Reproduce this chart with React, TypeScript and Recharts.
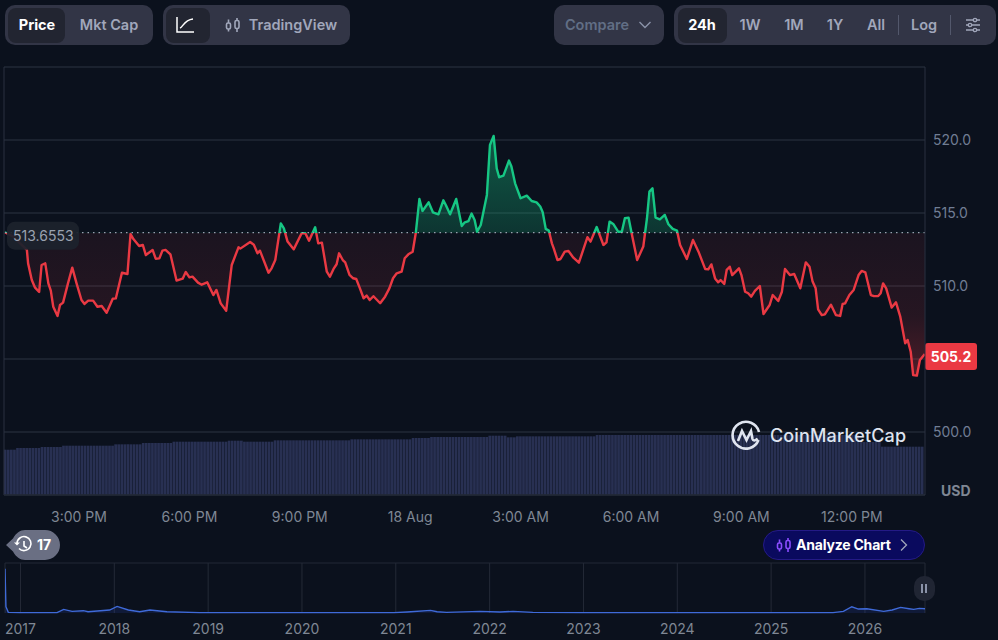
import React from "react";
import { ComposedChart, AreaChart, BarChart, Area, Bar, XAxis, YAxis, CartesianGrid, ReferenceLine } from "recharts";

// ---- main price series (minutes after 3:00 PM, USD) ----
const priceMinutes = [
  -121,-107,-96,-85,-83,-77,-72,-65,-61,-55,-50,-46,-42,-35,-31,-26,-18,-11,-4,4,9,15,23,30,37,45,55,60,70,79,84,89,98,104,109,120,125,131,136,141,149,159,169,174,180,185,194,200,209,219,224,231,240,249,260,263,279,285,291,295,309,314,320,329,334,340,350,363,369,375,385,390,396,404,409,
  415,420,424,430,434,441,447,452,458,464,469,474,480,491,499,506,512,518,526,531,537,544,549,555,560,570,577,586,594,598,605,615,624,629,635,640,645,649,655,665,670,676,681,685,692,701,705,711,720,730,738,746,752,756,761,766,771,774,780,785,792,798,806,815,822,829,834,844,855,860,865,871,879,885,890,896,901,910,920,926,930,935,940,947,955,961,968,975,
  980,991,1001,1010,1021,1026,1031,1037,1042,1046,1052,1056,1061,1065,1076,1080,1086,1091,1096,1102,1110,1116,1126,1131,1140,1146,1151,1159,1166,1176,1185,1191,1196,1201,1205,1211,1216,1226,1234,1241,1245,1249,1256,1263,1271,1276,1282,1291,1296,1303,1307,1311,1316,1325,1332,1339,1347,1351,1356,1360,1366,1371,1379,
];
const priceValues = [
  513.68,513.38,512.92,512.47,511.55,510.41,509.91,509.59,511.44,511.55,510.18,509.68,508.58,507.95,508.7,508.86,510.18,511.26,510.18,509.04,508.77,509.0,509.0,508.58,508.63,508.17,509.13,509.15,510.91,510.82,513.56,513.2,512.74,512.81,512.12,512.47,511.87,511.89,512.42,512.47,512.17,510.37,510.5,510.96,510.59,510.64,510.23,510.09,510.25,509.38,509.73,508.81,508.31,511.44,512.65,512.56,513.01,512.83,512.24,512.42,510.91,511.21,511.78,514.29,513.95,513.04,512.51,513.61,513.61,513.1,514.02,512.92,512.97,510.98,510.64,
  511.17,511.49,512.24,511.78,511.62,510.76,510.53,510.48,509.84,509.16,509.34,509.04,509.3,508.82,509.27,509.84,510.53,510.87,510.98,511.9,512.17,512.35,513.61,515.96,515.14,515.73,515.05,514.91,515.87,515.55,514.91,515.96,514.11,514.36,514.45,514.96,514.52,513.72,514.18,516.24,519.66,520.28,518.06,517.45,517.56,518.59,518.18,517.03,516.01,516.19,515.82,515.73,515.44,515.05,513.91,513.79,512.92,512.58,511.78,511.85,512.35,512.4,511.94,511.6,512.47,513.34,513.04,514.04,512.81,512.99,514.41,514.25,513.72,513.72,514.64,514.68,513.61,511.78,512.7,514.64,516.46,516.69,514.68,514.57,514.87,514.23,513.91,513.79,
  512.81,511.85,513.15,512.35,511.16,511.14,511.48,510.52,510.25,510.41,510.14,511.1,511.32,510.75,511.21,510.75,509.61,509.5,509.27,509.66,510.0,508.08,508.7,509.38,508.97,509.61,511.16,510.75,510.82,509.84,511.62,511.32,510.3,509.84,508.4,508.01,508.06,508.72,508.01,507.95,508.77,508.81,509.38,509.73,510.75,511.03,510.94,509.38,509.31,509.31,509.5,510.18,509.84,508.52,508.88,507.9,506.07,506.3,505.5,503.9,503.86,504.93,505.34,
];
const openPrice = 513.6553;
const lastPrice = 505.2;

// ---- volume, read as runs of equal-height bars: [bar count, volume] ----
const volumeRuns = [
  [4,1133],[8,1175],[7,1200],[17,1233],[9,1267],[10,1300],[18,1333],[5,1358],[10,1333],[25,1367],[20,1392],[6,1425],[19,1450],[3,1483],
  [3,1483],[3,1442],[26,1467],[42,1500],[44,1500],[7,1325],[14,1208],
];

// ---- axes ----
const timeTicks = [0,180,360,540,720,900,1080,1260];
const timeLabels = ["3:00 PM","6:00 PM","9:00 PM","18 Aug","3:00 AM","6:00 AM","9:00 AM","12:00 PM"];
const priceTicks = [500,505,510,515,520,525];
const shownPriceTicks = [500,510,515,520];

// ---- navigator (all-time) ----
const navYears = [2016.835,2016.845,2016.87,2017.0,2017.39,2017.46,2017.55,2017.67,2017.72,2017.95,2018.03,2018.15,2018.27,2018.38,2018.56,2018.91,2020.98,2021.12,2021.37,2021.44,2021.54,2021.9,2022.11,2022.25,2022.46,2022.99,2024.6,2025.66,2025.77,2025.86,2025.93,2026.02,2026.2,2026.29,2026.38,2026.47,2026.52,2026.58,2026.64];
const navValues = [4420,630,66,33,33,363,165,231,132,297,660,297,132,297,132,33,33,100,264,132,66,165,100,165,66,33,33,33,165,627,396,429,165,297,561,429,363,462,429];
const navTicks = [2017,2018,2019,2020,2021,2022,2023,2024,2025,2026];

const priceData = priceMinutes.map((t, i) => ({ t, price: priceValues[i] }));
const volumeData: { t: number; volume: number }[] = [];
volumeRuns.forEach(([n, v]) => {
  for (let k = 0; k < n; k++) volumeData.push({ t: -120 + 5 * volumeData.length, volume: v });
});
const navData = navYears.map((year, i) => ({ year, value: navValues[i] }));

const FONT = "Inter, 'Noto Sans', sans-serif";
const GRID = "#222836";
const BG = "#0b111d";
const X_DOMAIN: [number, number] = [-122.3, 1379.3];
const Y_DOMAIN: [number, number] = [495.685, 525];

const hi = Math.max(...priceValues);
const lo = Math.min(...priceValues);
const split = (hi - openPrice) / (hi - lo);

const box = (left: number, top: number, width: number, height: number, extra: React.CSSProperties = {}): React.CSSProperties => ({
  position: "absolute", left, top, width, height, boxSizing: "border-box", ...extra,
});

function Txt({ cx, cy, children, color = "#a1a7bb", weight = 600, size = 14.5 }: any) {
  return (
    <div style={{ position: "absolute", left: cx - 60, width: 120, top: cy - 10, height: 20, lineHeight: "20px", textAlign: "center", color, fontWeight: weight, fontSize: size, whiteSpace: "nowrap" }}>
      {children}
    </div>
  );
}

function Candles({ x, y, color, w = 1.6 }: any) {
  return (
    <svg style={{ position: "absolute", left: x, top: y }} width="18" height="18" viewBox="0 0 18 18" fill="none" stroke={color} strokeWidth={w}>
      <rect x="2.5" y="7" width="4" height="6" rx="1.6" />
      <path d="M4.5 3.5V7M4.5 13v2.5" />
      <rect x="11" y="4.5" width="4" height="8" rx="1.6" />
      <path d="M13 2v2.5M13 12.5V16" />
    </svg>
  );
}

function Toolbar() {
  const group = "#323546";
  const sel = "#222531";
  return (
    <>
      <div style={box(5, 5, 148, 40, { background: group, borderRadius: 10 })} />
      <div style={box(8, 8, 57, 35, { background: sel, borderRadius: 8 })} />
      <Txt cx={37} cy={25} color="#ffffff" weight={700}>Price</Txt>
      <Txt cx={109} cy={25}>Mkt Cap</Txt>

      <div style={box(163, 5, 187, 40, { background: group, borderRadius: 10 })} />
      <div style={box(166, 8, 44, 35, { background: sel, borderRadius: 8 })} />
      <svg style={{ position: "absolute", left: 176, top: 16 }} width="18" height="18" viewBox="0 0 18 18" fill="none" stroke="#fff" strokeWidth="1.5">
        <path d="M1 1v15h17" />
        <path d="M4 12c3-1 4-8 13-9" />
      </svg>
      <Candles x={224} y={16} color="#a1a7bb" />
      <Txt cx={293} cy={25}>TradingView</Txt>

      <div style={box(554, 5, 110, 40, { background: group, borderRadius: 10 })} />
      <Txt cx={597} cy={25} color="#616e85">Compare</Txt>
      <svg style={{ position: "absolute", left: 638, top: 20 }} width="14" height="10" viewBox="0 0 14 10" fill="none" stroke="#8a92a8" strokeWidth="1.4">
        <path d="M1.5 2l5.5 5.5L12.5 2" />
      </svg>

      <div style={box(674, 5, 322, 40, { background: group, borderRadius: 10 })} />
      <div style={box(678, 8, 49, 35, { background: sel, borderRadius: 8 })} />
      <Txt cx={702} cy={25} color="#ffffff" weight={700}>24h</Txt>
      <Txt cx={750} cy={25}>1W</Txt>
      <Txt cx={794} cy={25}>1M</Txt>
      <Txt cx={835} cy={25}>1Y</Txt>
      <Txt cx={876} cy={25}>All</Txt>
      <div style={box(898, 15, 1, 20, { background: "#53586c" })} />
      <Txt cx={924} cy={25}>Log</Txt>
      <div style={box(950, 15, 1, 20, { background: "#53586c" })} />
      <svg style={{ position: "absolute", left: 965, top: 17 }} width="16" height="16" viewBox="0 0 16 16" fill="none" stroke="#a1a7bb" strokeWidth="1.3">
        <path d="M1 3h7M12 3h3M1 8h2M7 8h8M1 13h7M12 13h3" />
        <circle cx="10" cy="3" r="1.7" /><circle cx="5" cy="8" r="1.7" /><circle cx="10" cy="13" r="1.7" />
      </svg>
    </>
  );
}

function Logo() {
  return (
    <>
      <svg style={{ position: "absolute", left: 731, top: 420 }} width="31" height="31" viewBox="0 0 31 31" fill="none" stroke="#dfe4ef" strokeWidth="2.6">
        <path d="M27.5 20A13.4 13.4 0 1 1 28 12" />
        <path d="M7 21l4-10 4.5 9 4.5-9 1.5 8c.5 2 3 2 5-.5" />
      </svg>
      <div style={{ position: "absolute", left: 770, top: 424, lineHeight: "24px", fontSize: 18, fontWeight: 500, color: "#dfe4ef", letterSpacing: 0.15, whiteSpace: "nowrap" }}>CoinMarketCap</div>
    </>
  );
}

const OpenLabel = ({ viewBox }: any) => (
  <g>
    <rect x={viewBox.x + 3} y={viewBox.y - 11} width={72} height={28} rx={8} fill="#1d222d" fillOpacity={0.94} />
    <text x={viewBox.x + 9} y={viewBox.y + 8} fontSize={14} fill="#9aa1b0" fontFamily={FONT}>513.6553</text>
  </g>
);

const LastLabel = ({ viewBox }: any) => (
  <g>
    <rect x={viewBox.x + viewBox.width} y={viewBox.y - 13} width={52} height={27} rx={3} fill="#ea3943" />
    <text x={viewBox.x + viewBox.width + 26} y={viewBox.y + 6} fontSize={14} fontWeight={700} fill="#fff" textAnchor="middle" fontFamily={FONT}>505.2</text>
  </g>
);

export default function App() {
  return (
    <div style={{ position: "fixed", left: 0, top: 0, width: 998, height: 640, background: BG, fontFamily: FONT, overflow: "hidden" }}>
      <Toolbar />

      <div style={{ position: "absolute", left: 0, top: 0 }}>
        <BarChart width={998} height={535} data={volumeData} margin={{ top: 67, right: 73, bottom: 40, left: 4 }}>
          <XAxis dataKey="t" type="number" domain={X_DOMAIN} hide />
          <YAxis domain={[0, 10700]} hide />
          <Bar dataKey="volume" fill="#283052" barSize={2.7} isAnimationActive={false} />
        </BarChart>
      </div>

      <div style={{ position: "absolute", left: 0, top: 0 }}>
        <ComposedChart width={998} height={535} data={priceData} margin={{ top: 67, right: 0, bottom: 0, left: 4 }}>
          <defs>
            <linearGradient id="priceStroke" x1="0" y1="0" x2="0" y2="1">
              <stop offset={split} stopColor="#16c784" />
              <stop offset={split} stopColor="#ea3943" />
            </linearGradient>
            <linearGradient id="priceFill" x1="0" y1="0" x2="0" y2="1">
              <stop offset={0} stopColor="#16c784" stopOpacity={0.4} />
              <stop offset={split} stopColor="#16c784" stopOpacity={0.2} />
              <stop offset={split} stopColor="#ea3943" stopOpacity={0.07} />
              <stop offset={0.75} stopColor="#ea3943" stopOpacity={0.12} />
              <stop offset={1} stopColor="#ea3943" stopOpacity={0.3} />
            </linearGradient>
          </defs>
          <CartesianGrid vertical={false} stroke={GRID} strokeWidth={1.3} />
          <XAxis
            dataKey="t" type="number" domain={X_DOMAIN} ticks={timeTicks} interval={0} allowDataOverflow
            tickFormatter={(v: number) => timeLabels[timeTicks.indexOf(v)] ?? ""}
            axisLine={{ stroke: GRID }} tickLine={false} tickMargin={11}
            tick={{ fill: "#7f8794", fontSize: 14, fontFamily: FONT }} height={40}
          />
          <YAxis
            orientation="right" domain={Y_DOMAIN} ticks={priceTicks} interval={0} allowDataOverflow width={73}
            tickFormatter={(v: number) => (shownPriceTicks.includes(v) ? v.toFixed(1) : "")}
            axisLine={{ stroke: "#2a3040" }} tickLine={false} tickMargin={2}
            tick={{ fill: "#717d94", fontSize: 14, fontFamily: FONT }}
          />
          <ReferenceLine x={X_DOMAIN[0]} stroke="#2a3040" />
          <Area
            dataKey="price" type="linear" baseValue={openPrice} stroke="url(#priceStroke)" strokeWidth={2.4} strokeLinejoin="round"
            fill="url(#priceFill)" fillOpacity={1} dot={false} activeDot={false} isAnimationActive={false}
          />
          <ReferenceLine y={openPrice} stroke="#9aa1b0" strokeDasharray="1.5 4" strokeWidth={1.2} label={(p: any) => <OpenLabel {...p} />} />
          <ReferenceLine y={lastPrice} stroke="none" label={(p: any) => <LastLabel {...p} />} />
        </ComposedChart>
      </div>

      <div style={{ position: "absolute", left: 941, top: 481, lineHeight: "20px", fontSize: 14, fontWeight: 700, color: "#7f8794" }}>USD</div>
      <Logo />

      {/* bookmark chip */}
      <svg style={{ position: "absolute", left: 5, top: 530 }} width="56" height="30" viewBox="0 0 56 30">
        <path d="M1 15l7-6.5C11 3 15 0 20 0h20a15 15 0 0 1 0 30H20c-5 0-9-3-12-8.5z" fill="#6a6f83" />
        <g fill="none" stroke="#fff" strokeWidth="1.6">
          <path d="M12 13.5a7 7 0 1 1 2 5" />
          <path d="M19 11v5l3 2" />
        </g>
        <path d="M9 12.5l3 3 3-3z" fill="#fff" />
      </svg>
      <div style={{ position: "absolute", left: 37, top: 535, lineHeight: "20px", color: "#fff", fontWeight: 700, fontSize: 14 }}>17</div>

      {/* analyze pill */}
      <div style={box(763, 530, 162, 30, { background: "#0a0a5e", border: "1px solid #241a86", borderRadius: 15 })} />
      <Candles x={775} y={536} color="#8a4dff" />
      <div style={{ position: "absolute", left: 796, top: 535, lineHeight: "20px", color: "#fff", fontWeight: 700, fontSize: 14, letterSpacing: -0.2, whiteSpace: "nowrap" }}>Analyze Chart</div>
      <svg style={{ position: "absolute", left: 899, top: 538 }} width="10" height="14" viewBox="0 0 10 14" fill="none" stroke="#a1a7bb" strokeWidth="1.3">
        <path d="M2 1.5L7.5 7 2 12.5" />
      </svg>

      {/* navigator */}
      <div style={{ position: "absolute", left: 0, top: 555 }}>
        <AreaChart width={998} height={85} data={navData} margin={{ top: 8, right: 73, bottom: 0, left: 5 }}>
          <CartesianGrid horizontal={false} stroke="#242a37" />
          <XAxis
            dataKey="year" type="number" domain={[2016.835, 2026.64]} ticks={navTicks} interval={0} allowDataOverflow
            tickFormatter={(v: number) => String(v)} axisLine={false} tickLine={false} tickMargin={5}
            tick={{ fill: "#7f8794", fontSize: 14, fontFamily: FONT }} height={27}
          />
          <YAxis domain={[0, 5000]} hide />
          <ReferenceLine y={5000} stroke="#222836" />
          <Area dataKey="value" type="linear" stroke="#3f6ad8" strokeWidth={1.4} fill="#3861fb" fillOpacity={0.12} dot={false} activeDot={false} isAnimationActive={false} />
        </AreaChart>
      </div>

      {/* pause */}
      <div style={box(914, 576, 21, 25, { background: "#202533", borderRadius: 10 })} />
      <div style={box(921, 584, 2, 9, { background: "#8a92a8" })} />
      <div style={box(925, 584, 2, 9, { background: "#8a92a8" })} />
    </div>
  );
}
